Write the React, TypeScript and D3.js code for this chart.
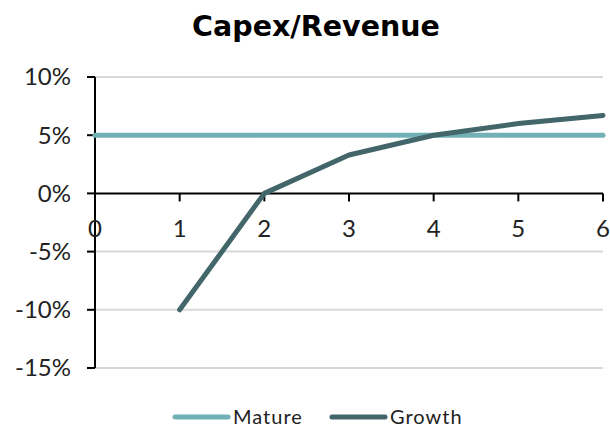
import { line, scaleLinear } from 'd3'

const years = [0, 1, 2, 3, 4, 5, 6]
const yTicks = [0.1, 0.05, 0, -0.05, -0.1, -0.15]
const matureYears = [0, 6]
const matureValues = [0.05, 0.05]
const growthYears = [1, 2, 3, 4, 5, 6]
const growthValues = [-0.1, 0, 0.033, 0.05, 0.06, 0.067]

const series = [
  { name: 'Mature', color: '#72b0b7', xs: matureYears, ys: matureValues },
  { name: 'Growth', color: '#426669', xs: growthYears, ys: growthValues },
]

const font = 'Lato, "DejaVu Sans", sans-serif'

export default function App() {
  const width = 610
  const height = 428
  const left = 95
  const right = 603
  const top = 77
  const bottom = 368

  const x = scaleLinear().domain([0, 6]).range([left, right])
  const y = scaleLinear().domain([-0.15, 0.1]).range([bottom, top])
  const pathFor = (xs: number[], ys: number[]) =>
    line<number>()
      .x((d) => x(d))
      .y((_, i) => y(ys[i]))(xs) ?? ''

  const legendItems = [
    { name: 'Mature', color: series[0].color, x0: 173 },
    { name: 'Growth', color: series[1].color, x0: 330 },
  ]

  return (
    <svg
      width={width}
      height={height}
      style={{ position: 'absolute', left: 0, top: 0, background: '#fff' }}
      fontFamily={font}
    >
      <text
        x={316}
        y={36}
        textAnchor="middle"
        fontSize={28.5}
        fontWeight="bold"
        fontFamily='"DejaVu Sans", sans-serif'
        fill="#000"
      >
        Capex/Revenue
      </text>

      {yTicks
        .filter((t) => t !== 0)
        .map((t) => (
          <line key={`g${t}`} x1={left} x2={right} y1={y(t)} y2={y(t)} stroke="#d9d9d9" strokeWidth={2} />
        ))}

      {yTicks.map((t) => (
        <g key={`y${t}`}>
          <line x1={left - 8} x2={left} y1={y(t)} y2={y(t)} stroke="#000" strokeWidth={2} />
          <text x={left - 24} y={y(t)} dy="0.35em" textAnchor="end" fontSize={24} fill="#222">
            {`${Math.round(t * 100)}%`}
          </text>
        </g>
      ))}

      <line x1={left} x2={left} y1={top} y2={bottom} stroke="#000" strokeWidth={2} />
      <line x1={left} x2={right} y1={y(0)} y2={y(0)} stroke="#000" strokeWidth={2} />
      {years.map((v) => (
        <g key={`x${v}`}>
          <line x1={x(v)} x2={x(v)} y1={y(0)} y2={y(0) + 8} stroke="#000" strokeWidth={2} />
          <text x={x(v)} y={y(0) + 44} textAnchor="middle" fontSize={24} fill="#222">
            {v}
          </text>
        </g>
      ))}

      {series.map((s) => (
        <path
          key={s.name}
          d={pathFor(s.xs, s.ys)}
          fill="none"
          stroke={s.color}
          strokeWidth={5}
          strokeLinejoin="round"
          strokeLinecap="round"
        />
      ))}

      {legendItems.map((item) => (
        <g key={item.name}>
          <line x1={item.x0 + 2} x2={item.x0 + 55} y1={417} y2={417} stroke={item.color} strokeWidth={5} strokeLinecap="round" />
          <text x={item.x0 + 60} y={424} fontSize={20} letterSpacing={1} fill="#222">
            {item.name}
          </text>
        </g>
      ))}
    </svg>
  )
}
